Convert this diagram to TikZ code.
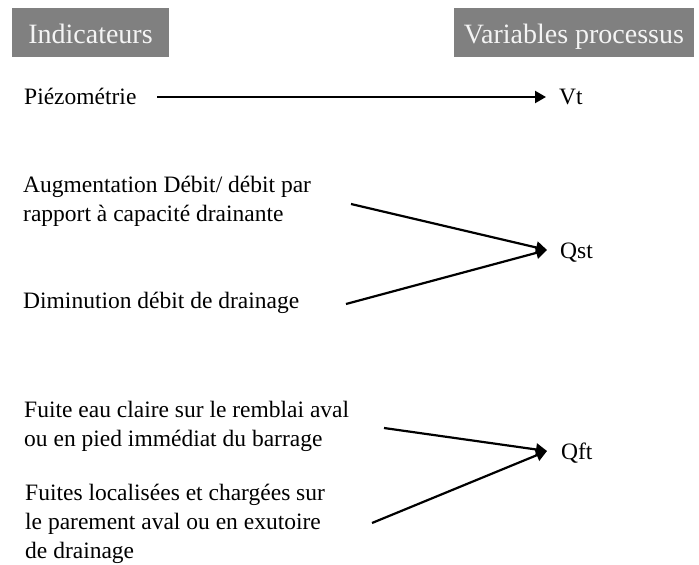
\documentclass[tikz,border=0pt]{standalone}
\usepackage{fontspec}
\setmainfont{Liberation Serif}
\usetikzlibrary{arrows.meta}
\definecolor{hdrgray}{HTML}{808080}
\definecolor{hdrtext}{HTML}{F4F4F4}
\tikzset{
  hdrbox/.style={fill=hdrgray, text=hdrtext, inner sep=0pt, font=\fontsize{28}{32}\selectfont},
  lbl/.style={anchor=base west, inner sep=0pt, font=\fontsize{23.5}{29}\selectfont},
  conn/.style={line width=2.2pt, -{Triangle[length=11pt,width=12pt]}},
}
\newcommand{\mlines}[1]{\begin{tabular}[t]{@{}l@{}}#1\end{tabular}}
\begin{document}
\begin{tikzpicture}[x=1pt,y=1pt]
\useasboundingbox (0,0) rectangle (699,-565);
% header boxes
\fill[hdrgray] (12,-8) rectangle (169,-57);
\fill[hdrgray] (454,-8) rectangle (694,-57);
\node[hdrbox, fill=none, anchor=base] (hind) at (90.5,-43) {Indicateurs};
\node[hdrbox, fill=none, anchor=base] (hvar) at (574,-43) {Variables processus};
% row 1
\node[lbl] (piezo) at (24,-104) {Piézométrie};
\node[lbl] (vt) at (559,-104) {Vt};
\coordinate (p1) at (157,-97);
\coordinate (vtip) at (546,-97);
\draw[conn] (p1) -- (vtip);
% row 2
\node[lbl] (aug) at (23,-192) {\mlines{Augmentation Débit/ débit par\\rapport à capacité drainante}};
\node[lbl] (dim) at (23,-308) {Diminution débit de drainage};
\node[lbl] (qst) at (560,-258) {Qst};
\coordinate (a1) at (351,-204);
\coordinate (d1) at (346,-304);
\coordinate (qsttip) at (547,-250);
\draw[conn] (a1) -- (qsttip);
\draw[conn] (d1) -- (qsttip);
% row 3
\node[lbl] (fuite) at (24,-417) {\mlines{Fuite eau claire sur le remblai aval\\ou en pied immédiat du barrage}};
\node[lbl] (fuites) at (25,-500) {\mlines{Fuites localisées et chargées sur\\le parement aval ou en exutoire\\de drainage}};
\node[lbl] (qft) at (561,-459) {Qft};
\coordinate (f1) at (384,-428);
\coordinate (f2) at (372,-523);
\coordinate (qfttip) at (547,-451);
\draw[conn] (f1) -- (qfttip);
\draw[conn] (f2) -- (qfttip);
\end{tikzpicture}
\end{document}
